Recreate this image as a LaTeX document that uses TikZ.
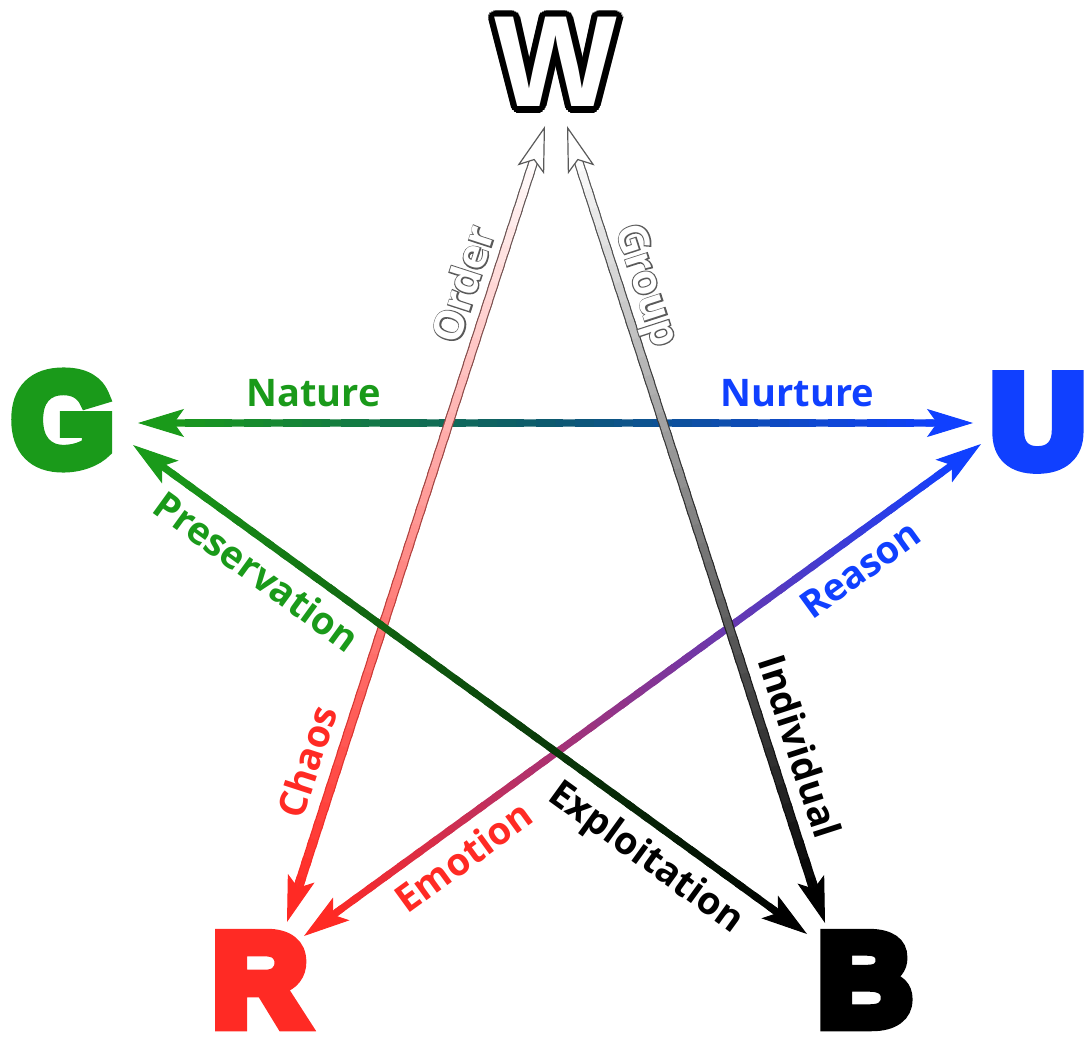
\documentclass[tikz,border=0pt]{standalone}
\usepackage{fontspec}
\setmainfont{Open Sans}
\newfontfamily\outlinefont{Open Sans}[BoldFeatures={FakeBold=6}]
\newfontfamily\letterfont{Liberation Sans}[BoldFeatures={FakeBold=10}]
\newfontfamily\letterplain{Liberation Sans}
\usetikzlibrary{arrows.meta,calc}

\definecolor{wgreen}{RGB}{26,154,26}
\definecolor{wblue}{RGB}{16,64,255}
\definecolor{wred}{RGB}{255,42,36}
\definecolor{wteal}{RGB}{12,88,112}
\definecolor{wgray}{RGB}{90,90,90}
\colorlet{wpink}{white!50!wred}
\colorlet{wmid}{white!50!black}
\colorlet{wdarkgreen}{wgreen!50!black}
\colorlet{wpurple}{wblue!50!wred}
\colorlet{wgrayred}{wgray!50!wred}
\colorlet{wgraydark}{wgray!50!black}

% shaft shaded in 40 pieces: ends, width, three colours
\newcommand\gradline[6]{%
  \path ($(#1)!14pt!(#2)$) coordinate (ga) ($(#2)!14pt!(#1)$) coordinate (gb);
  \foreach \i in {1,...,40}{
    \pgfmathsetmacro\gta{(\i-1)/40}
    \pgfmathsetmacro\gtb{min(1,(\i+0.4)/40)}
    \ifnum\i<21
      \pgfmathsetmacro\gmix{100-5*(\i-0.5)}
      \colorlet{gc}{#4!\gmix!#5}
    \else
      \pgfmathsetmacro\gmix{200-5*(\i-0.5)}
      \colorlet{gc}{#5!\gmix!#6}
    \fi
    \draw[line width=#3, gc] ($(ga)!\gta!(gb)$) -- ($(ga)!\gtb!(gb)$);
  }}

\begin{document}
\begin{tikzpicture}[x=0.5pt,y=-0.5pt,
  letter/.style={font=\letterfont\bfseries\fontsize{65}{65}\selectfont, inner sep=0pt},
  plainletter/.style={font=\letterplain\bfseries\fontsize{65}{65}\selectfont, inner sep=0pt},
  lbl/.style={font=\bfseries\fontsize{19}{19}\selectfont, inner sep=0pt, sloped,
    text height=13.6pt, text depth=0pt},
  outlined/.style={font=\outlinefont\bfseries\fontsize{20.5}{20.5}\selectfont, wgray},
  whitelbl/.style={font=\bfseries\fontsize{20.5}{20.5}\selectfont, white},
  tip/.style={line width=0.5pt, -{Stealth[length=23pt,width=14pt,inset=5pt]}},
  hollowtip/.style={line width=0.6pt, white,
    -{Stealth[length=23pt,width=14pt,inset=5pt,color=wgray,fill=white]}}
]
  \useasboundingbox (0,0) rectangle (1086,1042);

  % the five letters (W is white with a black rim)
  \coordinate (wpos) at (556,62);
  \foreach \a in {0,20,...,340}
    \node[plainletter, black] (Wrim\a) at ($(wpos)+(\a:3.2pt)$) {W};
  \node[plainletter, white] (W) at (wpos) {W};
  \node[letter, wgreen] (G) at (63,420) {G};
  \node[letter, wblue] (U) at (1038,422) {U};
  \node[letter, wred] (R) at (260,980) {R};
  \node[letter, black] (B) at (865,980) {B};

  % arrow ends
  \coordinate (wo) at (545,126);
  \coordinate (rc) at (287,922);
  \coordinate (wg) at (567,126);
  \coordinate (bi) at (825,923);
  \coordinate (gn) at (138,423);
  \coordinate (un) at (973,423);
  \coordinate (gp) at (133,445);
  \coordinate (be) at (807,934);
  \coordinate (ur) at (981,444);
  \coordinate (re) at (304,936);

  % G -- U
  \gradline{gn}{un}{3.6pt}{wgreen}{wteal}{wblue}
  \draw[tip, wgreen] ($(gn)!23pt!(un)$) -- (gn);
  \draw[tip, wblue] ($(un)!23pt!(gn)$) -- (un);

  % U -- R
  \gradline{ur}{re}{3.6pt}{wblue}{wpurple}{wred}
  \draw[tip, wblue] ($(ur)!23pt!(re)$) -- (ur);
  \draw[tip, wred] ($(re)!23pt!(ur)$) -- (re);

  % W -- B
  \gradline{wg}{bi}{4.8pt}{wgray}{wgraydark}{black}
  \gradline{wg}{bi}{3.6pt}{white}{wmid}{black}
  \draw[hollowtip] ($(wg)!23pt!(bi)$) -- (wg);
  \draw[tip, black] ($(bi)!23pt!(wg)$) -- (bi);

  % W -- R
  \gradline{wo}{rc}{4.8pt}{wgray}{wgrayred}{wred}
  \gradline{wo}{rc}{3.6pt}{white}{wpink}{wred}
  \draw[hollowtip] ($(wo)!23pt!(rc)$) -- (wo);
  \draw[tip, wred] ($(rc)!23pt!(wo)$) -- (rc);

  % G -- B
  \gradline{gp}{be}{3.6pt}{wgreen}{wdarkgreen}{black}
  \draw[tip, wgreen] ($(gp)!23pt!(be)$) -- (gp);
  \draw[tip, black] ($(be)!23pt!(gp)$) -- (be);

  % labels
  \path (gn) -- node[lbl, above=8pt, pos=.21, wgreen] (nature) {Nature}
    node[lbl, above=8pt, pos=.79, wblue] (nurture) {Nurture} (un);
  \path (gp) -- node[lbl, below=8pt, pos=.21, wgreen] (preservation) {Preservation}
    node[lbl, below=8pt, pos=.79, black] (exploitation) {Exploitation} (be);
  \path (re) -- node[lbl, below=8pt, pos=.21, wred] (emotion) {Emotion}
    node[lbl, below=8pt, pos=.795, wblue] (reason) {Reason} (ur);
  \path (rc) -- node[lbl, above=8pt, pos=.19, wred] (chaos) {Chaos}
    node[lbl, outlined, above=7pt, pos=.79] (orderback) {Order}
    node[lbl, whitelbl, above=7pt, pos=.79] (order) {Order} (wo);
  \path (wg) -- node[lbl, outlined, above=7pt, pos=.21] (groupback) {Group}
    node[lbl, whitelbl, above=7pt, pos=.21] (group) {Group}
    node[lbl, above=8pt, pos=.79, black] (individual) {Individual} (bi);
\end{tikzpicture}
\end{document}
